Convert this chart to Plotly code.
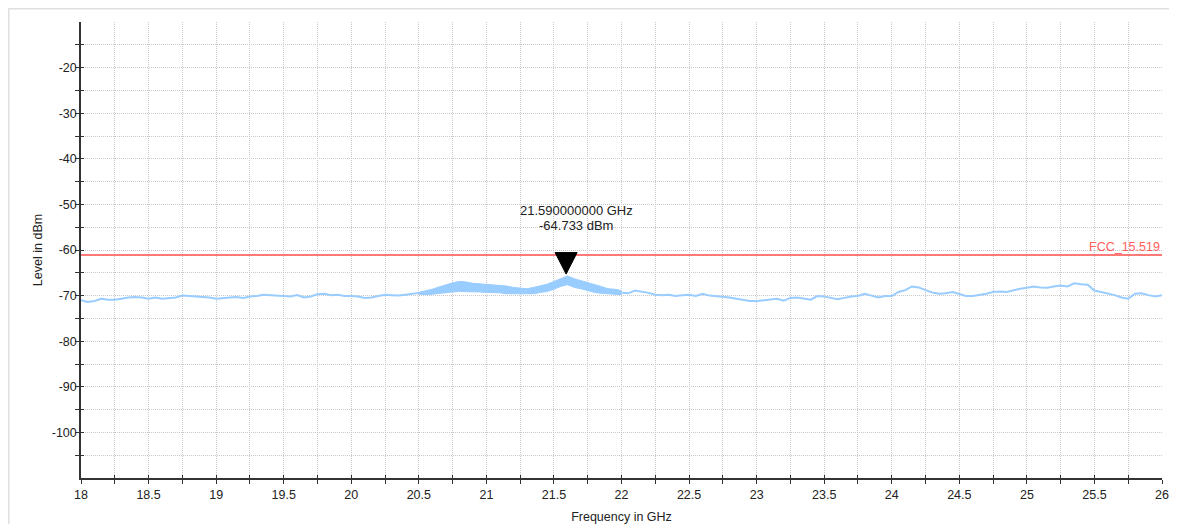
import plotly.graph_objects as go

# ---------------- data ----------------
freq_ghz = [round(18 + 0.05 * i, 2) for i in range(161)]  # 18.00 .. 26.00 sweep grid

level_dbm = [
    # 18.00 - 19.95
    -71.0, -71.4, -71.2, -70.7, -70.9, -70.9, -70.7, -70.4, -70.3, -70.4,
    -70.7, -70.4, -70.7, -70.6, -70.4, -70.0, -70.1, -70.1, -70.2, -70.4,
    -70.7, -70.5, -70.4, -70.3, -70.5, -70.2, -70.1, -69.8, -69.9, -70.1,
    -70.1, -70.2, -69.9, -70.4, -70.2, -69.7, -69.6, -69.9, -69.8, -70.1,
    # 20.00 - 21.95
    -70.1, -70.2, -70.5, -70.4, -70.1, -69.8, -69.9, -70.0, -69.8, -69.6,
    -69.5, -69.3, -69.1, -68.8, -68.5, -68.2, -68.0, -68.1, -68.2, -68.2,
    -68.3, -68.4, -68.5, -68.7, -68.9, -69.0, -69.1, -68.9, -68.6, -68.2,
    -67.8, -67.2, -66.4, -67.2, -67.6, -68.0, -68.5, -68.8, -69.1, -69.2,
    # 22.00 - 23.95
    -69.3, -69.5, -68.9, -69.1, -69.4, -69.8, -69.9, -69.8, -70.1, -69.9,
    -69.8, -70.1, -69.6, -70.0, -70.1, -70.2, -70.4, -70.7, -70.9, -71.2,
    -71.2, -71.0, -70.9, -70.7, -71.1, -70.5, -70.4, -70.7, -70.9, -70.1,
    -70.2, -70.5, -70.8, -70.5, -70.2, -70.1, -69.6, -70.0, -70.4, -70.1,
    # 24.00 - 26.00
    -70.1, -69.2, -68.8, -68.0, -68.2, -68.8, -69.3, -69.6, -69.5, -69.2,
    -69.6, -70.1, -70.1, -69.9, -69.6, -69.2, -69.1, -69.2, -68.8, -68.5,
    -68.3, -68.0, -68.2, -68.3, -68.0, -67.8, -68.0, -67.3, -67.5, -67.6,
    -68.9, -69.2, -69.6, -69.9, -70.4, -70.7, -69.6, -69.5, -69.9, -70.2,
    -69.9,
]

# noisy (thick) part of the trace: min / max envelope
band_freq_ghz = [round(20.5 + 0.05 * i, 2) for i in range(31)]  # 20.50 .. 22.00
band_low_dbm = [
    -69.7, -69.8, -69.7, -69.5, -69.3, -69.2, -69.1, -69.1, -69.2, -69.2,
    -69.3, -69.3, -69.4, -69.6, -69.6, -69.7, -69.7, -69.6, -69.3, -69.1,
    -68.6, -68.0, -67.6, -68.2, -68.5, -68.9, -69.3, -69.5, -69.6, -69.7,
    -69.8,
]
band_high_dbm = [
    -69.3, -69.0, -68.6, -68.1, -67.6, -67.2, -66.9, -67.0, -67.3, -67.4,
    -67.5, -67.6, -67.8, -67.9, -68.2, -68.4, -68.5, -68.2, -67.9, -67.5,
    -66.9, -66.3, -65.7, -66.3, -66.7, -67.2, -67.6, -68.0, -68.5, -68.6,
    -68.9,
]

limit_name = "FCC_15.519"
limit_dbm = -61.1

marker_freq_ghz = 21.59
marker_level_dbm = -64.733

x_tick_vals = [18, 18.5, 19, 19.5, 20, 20.5, 21, 21.5, 22, 22.5, 23, 23.5, 24, 24.5, 25, 25.5, 26]
x_tick_text = ["18", "18.5", "19", "19.5", "20", "20.5", "21", "21.5", "22", "22.5",
               "23", "23.5", "24", "24.5", "25", "25.5", "26"]
x_minor_vals = [18.25, 18.75, 19.25, 19.75, 20.25, 20.75, 21.25, 21.75,
                22.25, 22.75, 23.25, 23.75, 24.25, 24.75, 25.25, 25.75]
y_tick_vals = [-100, -90, -80, -70, -60, -50, -40, -30, -20]
y_tick_text = ["-100", "-90", "-80", "-70", "-60", "-50", "-40", "-30", "-20"]
y_minor_vals = [-105, -95, -85, -75, -65, -55, -45, -35, -25, -15]

# ---------------- styles ----------------
FONT = "Liberation Sans, Arial, Helvetica, sans-serif"
TRACE = "#99ccff"
AXIS = "#333333"
GRID = "#c8c8c8"
GRIDDASH = "1px,1px"
TEXT = "#222222"

fig = go.Figure()

fig.add_trace(go.Scatter(
    x=band_freq_ghz, y=band_low_dbm, mode="lines",
    line=dict(color=TRACE, width=1), hoverinfo="skip", showlegend=False))
fig.add_trace(go.Scatter(
    x=band_freq_ghz, y=band_high_dbm, mode="lines", fill="tonexty",
    fillcolor=TRACE, line=dict(color=TRACE, width=1), hoverinfo="skip", showlegend=False))
fig.add_trace(go.Scatter(
    x=freq_ghz, y=level_dbm, mode="lines",
    line=dict(color=TRACE, width=2), showlegend=False, name="Level"))

# empty trace for the overlay axes (inner half of the crossing ticks)
fig.add_trace(go.Scatter(x=[], y=[], xaxis="x2", yaxis="y2", showlegend=False))

axis_common = dict(
    showline=True, linecolor=AXIS, linewidth=1.5, mirror=False,
    ticks="outside", ticklen=4, tickwidth=1.2, tickcolor=AXIS,
    showgrid=True, gridcolor=GRID, gridwidth=1, griddash=GRIDDASH,
    zeroline=False, tickfont=dict(family=FONT, size=12.5, color=TEXT),
    automargin=False,
)

# the page body adds an 8 px offset: figure is sized/margined to compensate
fig.update_layout(
    width=1169, height=516,
    margin=dict(l=73, r=15, t=14, b=46),
    paper_bgcolor="white", plot_bgcolor="white",
    font=dict(family=FONT, size=12.5, color=TEXT),
    xaxis=dict(
        range=[18, 26], tickmode="array", tickvals=x_tick_vals, ticktext=x_tick_text,
        minor=dict(tickvals=x_minor_vals, ticks="outside", ticklen=4, tickwidth=1.2,
                   tickcolor=AXIS, showgrid=True, gridcolor=GRID, gridwidth=1, griddash=GRIDDASH),
        title=dict(text="Frequency in GHz", standoff=17,
                   font=dict(family=FONT, size=12.5, color=TEXT)),
        **axis_common,
    ),
    yaxis=dict(
        range=[-110, -10], tickmode="array", tickvals=y_tick_vals, ticktext=y_tick_text,
        ticklabelstandoff=-4,
        minor=dict(tickvals=y_minor_vals, ticks="outside", ticklen=4, tickwidth=1.2,
                   tickcolor=AXIS, showgrid=True, gridcolor=GRID, gridwidth=1, griddash=GRIDDASH),
        title=dict(text="Level in dBm", standoff=6,
                   font=dict(family=FONT, size=12.5, color=TEXT)),
        **axis_common,
    ),
    xaxis2=dict(
        overlaying="x", anchor="y2", range=[18, 26], tickmode="array",
        tickvals=x_tick_vals + x_minor_vals, ticks="inside", ticklen=3, tickwidth=1.2,
        tickcolor=AXIS, showticklabels=False, showgrid=False, showline=False, zeroline=False,
    ),
    yaxis2=dict(
        overlaying="y", anchor="x2", range=[-110, -10], tickmode="array",
        tickvals=y_tick_vals + y_minor_vals, ticks="inside", ticklen=3, tickwidth=1.2,
        tickcolor=AXIS, showticklabels=False, showgrid=False, showline=False, zeroline=False,
    ),
    showlegend=False,
)

# outer card border (at the figure's top-left edge)
fig.add_shape(type="rect", xref="paper", yref="paper",
              x0=-0.0668, x1=1.05, y0=-0.3, y1=1.029,
              line=dict(color="#e0e0e0", width=1.5), fillcolor="rgba(0,0,0,0)", layer="below")

# limit line + label
fig.add_shape(type="line", xref="paper", yref="y", x0=0, x1=1, y0=limit_dbm, y1=limit_dbm,
              line=dict(color="#ff4d4d", width=1.5))
fig.add_annotation(x=1, xref="paper", y=limit_dbm, yref="y", text=limit_name,
                   showarrow=False, xanchor="right", yanchor="bottom", yshift=-1,
                   font=dict(family=FONT, size=12.5, color="#ff5c5c"))

# marker triangle (pixel-sized, anchored at marker data point)
fig.add_shape(type="path", xref="x", yref="y",
              xsizemode="pixel", ysizemode="pixel",
              xanchor=marker_freq_ghz, yanchor=marker_level_dbm,
              path="M-11,19 L11,19 L0,-2.5 Z",
              fillcolor="black", line=dict(color="black", width=1))
fig.add_annotation(x=marker_freq_ghz, y=marker_level_dbm, xref="x", yref="y",
                   text=f"{marker_freq_ghz:.9f} GHz",
                   showarrow=False, xanchor="center", yanchor="middle",
                   xshift=10, yshift=61.5,
                   font=dict(family=FONT, size=13, color=TEXT))
fig.add_annotation(x=marker_freq_ghz, y=marker_level_dbm, xref="x", yref="y",
                   text=f"{marker_level_dbm:.3f} dBm",
                   showarrow=False, xanchor="center", yanchor="middle",
                   xshift=10, yshift=46.5,
                   font=dict(family=FONT, size=13, color=TEXT))

fig.write_html("out.html")
